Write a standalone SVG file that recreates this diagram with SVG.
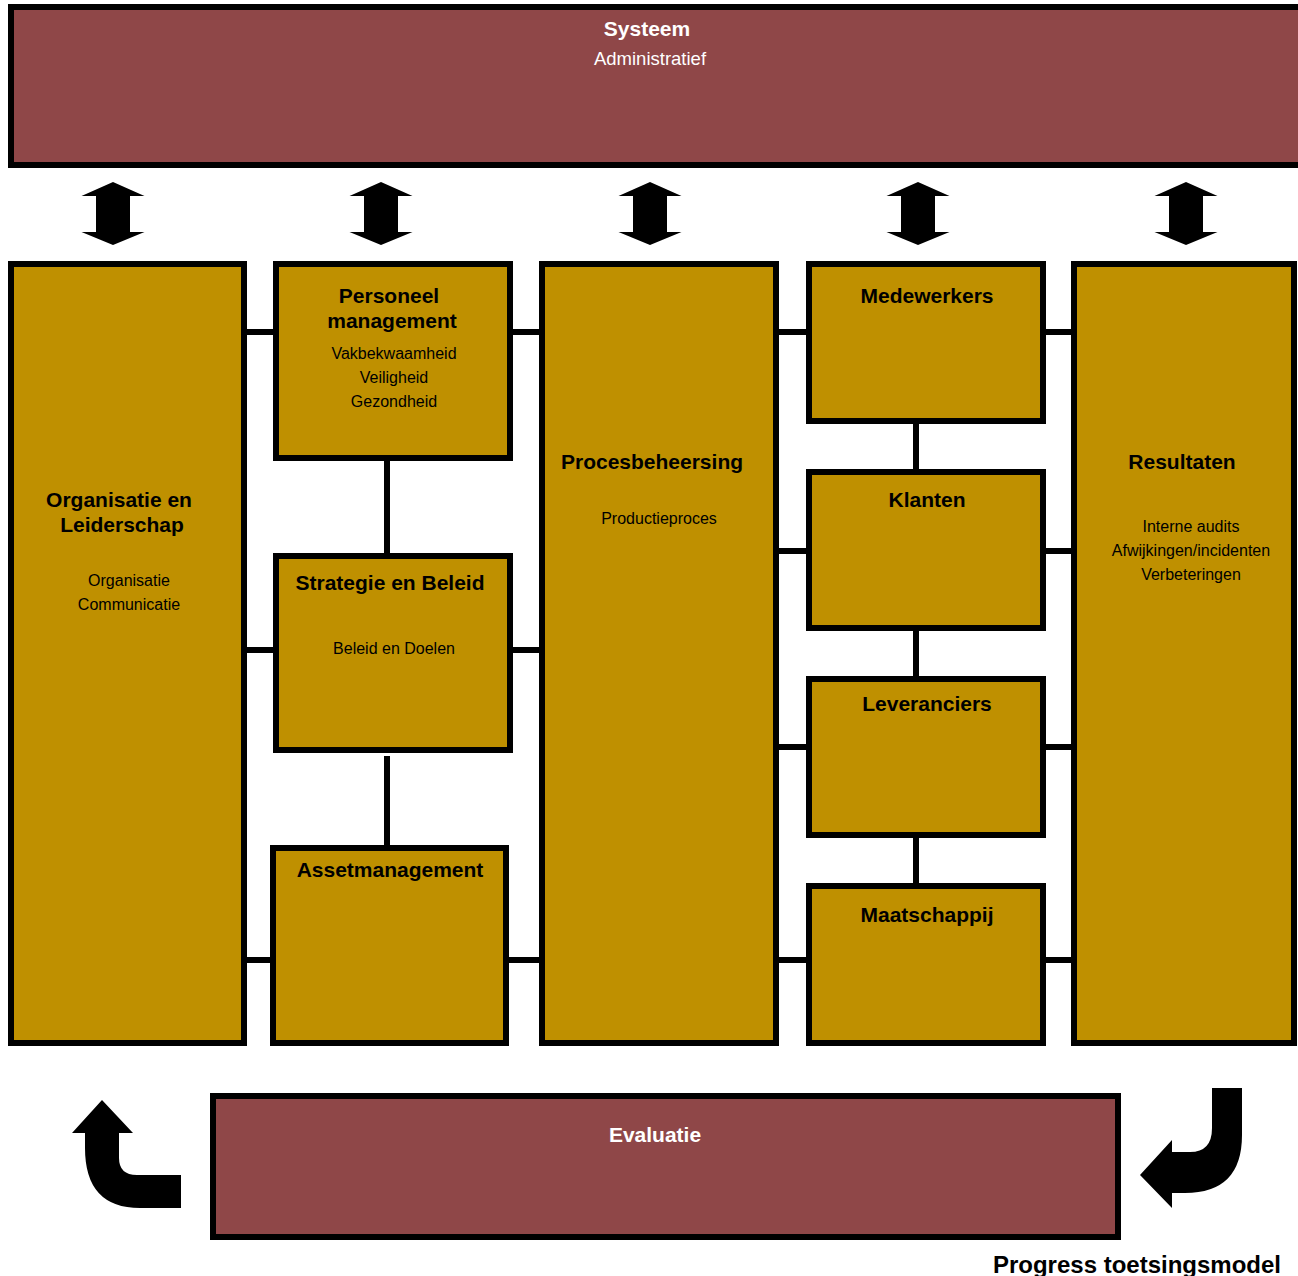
<svg xmlns="http://www.w3.org/2000/svg" width="1298" height="1276" viewBox="0 0 1298 1276">
<style>
.red{fill:#8F4748;stroke:#000;stroke-width:6}
.gold{fill:#BF9000;stroke:#000;stroke-width:6}
.con line{stroke:#000;stroke-width:6}
text{font-family:"Liberation Sans",Arial,sans-serif;text-anchor:middle}
.h{font-size:21px;font-weight:bold;fill:#000}
.s{font-size:16px;fill:#000}
.hw{font-size:21px;font-weight:bold;fill:#fff}
.sw{font-size:18.5px;fill:#fff}
.arr{fill:#000}
</style>
<rect width="1298" height="1276" fill="#fff"/>
<g id="connectors" class="con">
<line x1="244" y1="332" x2="276" y2="332"/>
<line x1="510" y1="332" x2="542" y2="332"/>
<line x1="776" y1="332" x2="809" y2="332"/>
<line x1="1043" y1="332" x2="1074" y2="332"/>
<line x1="244" y1="650" x2="276" y2="650"/>
<line x1="510" y1="650" x2="542" y2="650"/>
<line x1="244" y1="960" x2="273" y2="960"/>
<line x1="506" y1="960" x2="542" y2="960"/>
<line x1="776" y1="551" x2="809" y2="551"/>
<line x1="1043" y1="551" x2="1074" y2="551"/>
<line x1="776" y1="747" x2="809" y2="747"/>
<line x1="1043" y1="747" x2="1074" y2="747"/>
<line x1="776" y1="960" x2="809" y2="960"/>
<line x1="1043" y1="960" x2="1074" y2="960"/>
<line x1="387" y1="458" x2="387" y2="556"/>
<line x1="387" y1="756" x2="387" y2="851"/>
<line x1="916" y1="421" x2="916" y2="472"/>
<line x1="916" y1="628" x2="916" y2="679"/>
<line x1="916" y1="835" x2="916" y2="886"/>
</g>
<g id="arrows" class="arr">
<path d="M113,182 L144.5,196 L130,196 L130,232 L144.5,232 L113,245 L81.5,232 L96,232 L96,196 L81.5,196 Z"/>
<path d="M381,182 L412.5,196 L398,196 L398,232 L412.5,232 L381,245 L349.5,232 L364,232 L364,196 L349.5,196 Z"/>
<path d="M650,182 L681.5,196 L667,196 L667,232 L681.5,232 L650,245 L618.5,232 L633,232 L633,196 L618.5,196 Z"/>
<path d="M918,182 L949.5,196 L935,196 L935,232 L949.5,232 L918,245 L886.5,232 L901,232 L901,196 L886.5,196 Z"/>
<path d="M1186,182 L1217.5,196 L1203,196 L1203,232 L1217.5,232 L1186,245 L1154.5,232 L1169,232 L1169,196 L1154.5,196 Z"/>
<path d="M102,1100 L133,1133 L119,1133 L119,1158 Q119,1175 137,1175 L181,1175 L181,1208 L140,1208 Q85,1208 85,1148 L85,1133 L72,1133 Z"/>
<path d="M1212,1088 L1242,1088 L1242,1135 Q1242,1193 1185,1193 L1172,1193 L1172,1208 L1140,1175 L1172,1140 L1172,1152 L1190,1152 Q1212,1152 1212,1128 Z"/>
</g>
<g id="systeem">
<rect class="red" x="11" y="7" width="1300" height="158"/>
<text class="hw" x="647" y="36">Systeem</text>
<text class="sw" x="650" y="65">Administratief</text>
</g>
<g id="organisatie">
<rect class="gold" x="11" y="264" width="233" height="779"/>
<text class="h" x="119" y="507">Organisatie en</text>
<text class="h" x="122" y="532">Leiderschap</text>
<text class="s" x="129" y="585.5">Organisatie</text>
<text class="s" x="129" y="609.5">Communicatie</text>
</g>
<g id="personeel">
<rect class="gold" x="276" y="264" width="234" height="194"/>
<text class="h" x="389" y="303">Personeel</text>
<text class="h" x="392" y="328">management</text>
<text class="s" x="394" y="358.5">Vakbekwaamheid</text>
<text class="s" x="394" y="382.5">Veiligheid</text>
<text class="s" x="394" y="406.5">Gezondheid</text>
</g>
<g id="strategie">
<rect class="gold" x="276" y="556" width="234" height="194"/>
<text class="h" x="390" y="590">Strategie en Beleid</text>
<text class="s" x="394" y="653.5">Beleid en Doelen</text>
</g>
<g id="asset">
<rect class="gold" x="273" y="848" width="233" height="195"/>
<text class="h" x="390" y="877">Assetmanagement</text>
</g>
<g id="proces">
<rect class="gold" x="542" y="264" width="234" height="779"/>
<text class="h" x="652" y="469">Procesbeheersing</text>
<text class="s" x="659" y="523.5">Productieproces</text>
</g>
<g id="medewerkers">
<rect class="gold" x="809" y="264" width="234" height="157"/>
<text class="h" x="927" y="303">Medewerkers</text>
</g>
<g id="klanten">
<rect class="gold" x="809" y="472" width="234" height="156"/>
<text class="h" x="927" y="507">Klanten</text>
</g>
<g id="leveranciers">
<rect class="gold" x="809" y="679" width="234" height="156"/>
<text class="h" x="927" y="711">Leveranciers</text>
</g>
<g id="maatschappij">
<rect class="gold" x="809" y="886" width="234" height="157"/>
<text class="h" x="927" y="922">Maatschappij</text>
</g>
<g id="resultaten">
<rect class="gold" x="1074" y="264" width="220" height="779"/>
<text class="h" x="1182" y="469">Resultaten</text>
<text class="s" x="1191" y="531.5">Interne audits</text>
<text class="s" x="1191" y="555.5">Afwijkingen/incidenten</text>
<text class="s" x="1191" y="579.5">Verbeteringen</text>
</g>
<g id="evaluatie">
<rect class="red" x="213" y="1096" width="905" height="141"/>
<text class="hw" x="655" y="1142">Evaluatie</text>
</g>
<text x="1281" y="1273" style="font-size:24px;font-weight:bold;text-anchor:end">Progress toetsingsmodel</text>
</svg>
